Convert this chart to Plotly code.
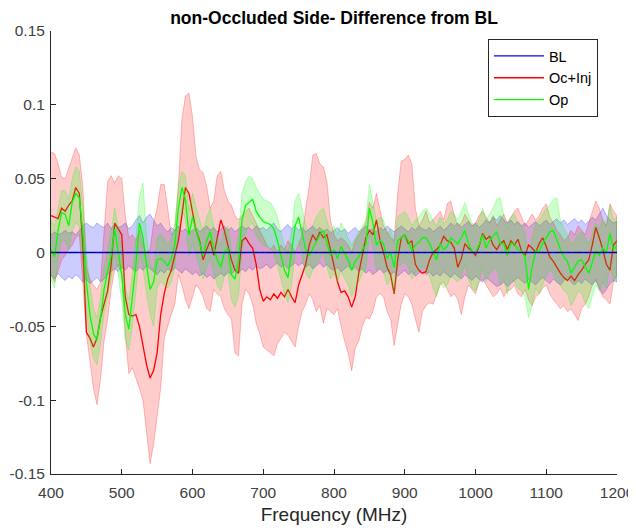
import plotly.graph_objects as go

# Frequency grid (MHz), 5 MHz steps
freq = list(range(400, 1201, 5))

# All values below are in units of 1e-3
bl_mean = [0] * len(freq)
bl_hi = [12,14,12,13,15,13,14,12,15,18, 20,18,17,20,18,17,20,16,19,17,
         18,20,16,18,22,25,20,24,26,22, 18,20,16,14,17,15,18,14,16,13,
         15,17,14,16,18,15,17,14,16,18, 15,17,14,16,18,16,17,15,18,16,
         17,15,18,20,16,14,17,19,16,18, 15,17,14,16,18,15,17,14,16,13,
         15,17,14,16,13,15,17,14,16,18, 15,16,14,17,15,18,16,14,16,18,
         16,14,17,15,18,16,15,17,14,16, 18,15,17,20,18,20,17,19,21,18,
         20,17,19,22,20,24,22,25,22,20, 22,19,21,18,20,17,19,21,18,20,
         22,19,21,23,20,22,19,21,23,20, 22,19,21,24,22,26,30,25,22,20, 21]
bl_lo = [-15,-18,-14,-17,-19,-16,-18,-15,-17,-20, -18,-21,-19,-17,-20,-18,-15,-13,-11,-13,
         -10,-12,-9,-11,-13,-10,-12,-9,-11,-13, -15,-12,-14,-11,-13,-10,-12,-14,-11,-13,
         -15,-13,-16,-14,-17,-15,-18,-16,-14,-16, -13,-15,-12,-14,-11,-13,-10,-12,-9,-11,
         -10,-8,-11,-9,-7,-10,-8,-11,-9,-7, -9,-7,-10,-8,-11,-9,-7,-10,-8,-11,
         -12,-10,-13,-11,-9,-12,-10,-13,-11,-14, -12,-15,-13,-11,-14,-12,-15,-13,-16,-14,
         -12,-15,-13,-16,-14,-12,-15,-13,-16,-14, -16,-13,-15,-17,-14,-16,-18,-15,-17,-19,
         -16,-18,-20,-17,-19,-21,-23,-22,-20,-23, -21,-19,-17,-19,-21,-18,-20,-22,-19,-17,
         -19,-21,-18,-20,-22,-19,-17,-20,-22,-19, -21,-18,-20,-22,-19,-24,-28,-25,-21,-19, -20]

oc_mean = [25,24,23,30,28,32,35,44,40,5, -54,-58,-64,-58,-44,-35,-26,-8,20,16,
           12,-30,-42,-43,-42,-50,-62,-76,-85,-80, -68,-42,-28,-18,-12,-2,8,25,44,40,
           28,15,8,-5,2,8,-2,10,22,15, 5,-5,-12,-14,8,10,6,3,-8,-25,
           -33,-30,-32,-28,-31,-27,-30,-25,-30,-34, -22,-15,-8,5,12,8,14,10,12,2,
           -8,-20,-27,-26,-30,-37,-30,-14,-2,10, 15,12,22,8,0,-10,-15,-28,-5,10,
           12,6,8,-8,-12,-14,-13,-5,0,2, 5,11,8,7,3,-10,-4,6,3,1,
           -2,4,13,9,11,5,2,6,8,2, 8,5,9,1,-2,5,3,0,6,10,
           4,-3,-6,-10,-14,-17,-19,-16,-19,-15, -12,-8,-5,5,17,10,2,-8,-12,5, 8]
oc_hi = [68,67,60,51,50,57,64,71,66,45, -10,-18,-22,-25,-20,15,48,52,47,52,
         50,25,10,12,8,15,5,0,2,20, 30,46,46,30,12,15,45,90,106,108,
         92,65,56,54,45,30,35,52,55,42, 35,32,25,22,25,28,30,25,20,15,
         10,5,2,5,0,5,2,8,5,0, 5,12,30,45,66,67,60,58,48,22,
         12,8,10,8,5,0,8,12,15,20, 34,30,40,28,18,14,10,8,40,62,
         63,66,60,30,18,22,28,20,22,25, 28,22,33,35,25,18,20,26,22,18,
         20,25,28,24,20,25,18,22,26,20, 24,28,30,24,18,22,26,22,25,30,
         33,24,20,15,12,8,10,15,12,18, 15,12,20,28,35,30,22,18,33,28, 25]
oc_lo = [-15,-20,-12,-5,-2,2,5,10,12,-20, -55,-75,-92,-103,-86,-60,-45,-25,-12,-8,
         -15,-55,-82,-78,-85,-92,-100,-122,-143,-130, -113,-92,-58,-50,-42,-35,-15,-22,-32,-38,
         -30,-22,-25,-30,-38,-40,-25,-28,-30,-38, -42,-45,-68,-70,-35,-25,-28,-35,-48,-55,
         -64,-66,-68,-70,-62,-58,-54,-56,-60,-64, -50,-40,-35,-28,-32,-40,-36,-48,-38,-40,
         -42,-38,-50,-60,-68,-80,-65,-60,-50,-44, -45,-40,-30,-28,-30,-40,-45,-63,-50,-35,
         -28,-30,-35,-45,-54,-40,-36,-34,-35,-28, -22,-20,-25,-30,-28,-32,-42,-30,-22,-25,
         -28,-20,-18,-22,-26,-30,-28,-24,-30,-26, -25,-22,-28,-30,-25,-32,-36,-30,-28,-24,
         -22,-28,-32,-35,-38,-36,-40,-38,-42,-46, -38,-35,-30,-22,-18,-25,-30,-32,-35,-20, -15]

op_mean = [2,-3,15,27,26,18,34,40,37,14, -20,-42,-55,-59,-45,-25,-13,-2,16,2,
           -15,-42,-52,-30,-8,20,10,-8,-25,-20, -5,-4,-6,-9,-4,5,30,44,36,12,
           24,15,6,-2,8,14,3,-5,-10,0, 3,-15,-18,-5,22,32,34,36,28,24,
           21,20,19,16,8,-2,-12,-17,0,18, 24,14,2,-2,3,8,12,15,6,-2,
           2,-4,4,-1,-5,-12,-6,-3,2,5, 30,20,5,8,6,-4,0,-10,8,10,
           12,8,1,5,7,10,10,6,0,-5, 6,2,4,10,8,6,10,15,6,1,
           0,5,12,3,8,11,14,6,6,-2, 6,6,2,1,-3,-25,-10,1,1,6,
           10,14,15,8,2,-3,-6,-14,-10,-6, -5,-10,-14,-7,1,-2,3,0,13,2, 5]
op_hi = [22,18,30,42,42,36,50,58,55,32, 0,-22,-38,-44,-30,-10,2,14,30,18,
         0,-24,-32,-14,10,38,47,12,-8,-12, 10,12,10,5,10,20,45,55,52,28,
         40,30,22,15,24,30,18,10,5,15, 18,2,-2,12,40,48,52,50,44,40,
         36,35,34,30,24,14,5,0,15,35, 40,30,18,14,18,24,28,30,22,14,
         18,12,20,15,10,5,10,14,18,22, 46,35,22,24,22,12,16,6,24,26,
         28,24,18,22,24,28,30,26,22,18, 24,20,22,28,26,22,28,34,26,20,
         18,22,30,22,26,30,36,37,25,16, 24,26,20,18,14,-5,10,20,22,26,
         30,32,36,37,22,16,12,5,8,12, 14,10,6,12,20,16,22,18,32,22, 24]
op_lo = [-18,-24,-5,8,8,2,14,20,18,-5, -40,-60,-72,-76,-62,-42,-30,-18,0,-15,
         -32,-60,-66,-50,-26,0,-10,-28,-42,-50, -24,-20,-22,-24,-20,-10,12,30,22,-2,
         6,-2,-10,-18,-10,-4,-14,-22,-26,-16, -14,-32,-37,-30,2,14,18,20,12,8,
         5,4,3,0,-8,-18,-28,-34,-22,0, 8,-2,-14,-18,-12,-8,-4,0,-10,-18,
         -14,-20,-12,-18,-22,-30,-24,-20,-14,-12, 12,4,-12,-10,-12,-22,-18,-28,-10,-8,
         -6,-10,-18,-14,-12,-10,-12,-16,-24,-30, -20,-24,-22,-16,-18,-20,-16,-8,-18,-24,
         -26,-20,-10,-20,-14,-12,-10,-22,-18,-28, -18,-20,-24,-26,-30,-44,-36,-24,-28,-22,
         -16,-12,-14,-20,-22,-26,-28,-36,-32,-26, -28,-34,-38,-30,-22,-26,-20,-24,-8,-20, -16]

ytick_vals = [-0.15, -0.1, -0.05, 0, 0.05, 0.1, 0.15]
ytick_text = ["-0.15", "-0.1", "-0.05", "0", "0.05", "0.1", "0.15"]
xtick_vals = [400, 500, 600, 700, 800, 900, 1000, 1100, 1200]

def scale(v):
    return [a / 1000.0 for a in v]

FONT = "Liberation Sans, Arial, Helvetica, sans-serif"
fig = go.Figure()

def band(lo, hi, rgb):
    fig.add_trace(go.Scatter(
        x=freq + freq[::-1], y=scale(hi) + scale(lo)[::-1],
        fill="toself", mode="lines",
        fillcolor="rgba(%d,%d,%d,0.2)" % rgb,
        line=dict(color="rgba(%d,%d,%d,0.25)" % rgb, width=1),
        hoverinfo="skip", showlegend=False))

def mean_line(vals, rgb, name):
    fig.add_trace(go.Scatter(
        x=freq, y=scale(vals), mode="lines", name=name,
        line=dict(color="rgb(%d,%d,%d)" % rgb, width=1.3)))

band(bl_lo, bl_hi, (0, 0, 255))
band(oc_lo, oc_hi, (255, 0, 0))
mean_line(oc_mean, (255, 0, 0), "Oc+Inj")
band(op_lo, op_hi, (0, 255, 0))
mean_line(op_mean, (0, 255, 0), "Op")
mean_line(bl_mean, (0, 0, 255), "BL")
fig.add_trace(go.Scatter(
    x=freq, y=scale(bl_mean), mode="lines", showlegend=False,
    line=dict(color="rgba(0,0,70,0.75)", width=1.2, dash="dashdot"),
    hoverinfo="skip"))

# The page body adds an 8px offset, so margins are shifted accordingly
fig.update_layout(
    width=636, height=532,
    margin=dict(l=43, r=27, t=23, b=66),
    paper_bgcolor="white", plot_bgcolor="white",
    font=dict(family=FONT, size=16, color="#262626"),
    title=dict(text="<b>non-Occluded Side- Difference from BL</b>",
               x=(43 + 566 / 2) / 636, xanchor="center",
               y=1 - 10 / 532, yanchor="middle", yref="container",
               font=dict(size=17.5, color="black")),
    showlegend=True,
    legend=dict(x=0.772, y=0.982, xanchor="left", yanchor="top",
                bgcolor="white", bordercolor="#262626", borderwidth=1,
                font=dict(size=14.5, color="black"), itemwidth=50,
                traceorder="normal", tracegroupgap=0),
)
fig.update_xaxes(range=[400, 1200], tickvals=xtick_vals,
                 ticks="inside", ticklen=5, tickcolor="#262626",
                 showline=True, linecolor="#262626", linewidth=1,
                 showgrid=False, zeroline=False, mirror=False, automargin=False,
                 ticklabelstandoff=4,
                 title=dict(text="Frequency (MHz)", font=dict(size=19, color="#262626"), standoff=8),
                 tickfont=dict(size=15.5, color="#404040"))
fig.update_yaxes(range=[-0.15, 0.15], tickvals=ytick_vals, ticktext=ytick_text,
                 ticks="inside", ticklen=5, tickcolor="#262626",
                 showline=True, linecolor="#262626", linewidth=1,
                 showgrid=False, zeroline=False, mirror=False, automargin=False,
                 ticklabelstandoff=2,
                 tickfont=dict(size=15.5, color="#404040"))

# legend order: BL, Oc+Inj, Op
fig.data[5].legendrank = 1
fig.data[2].legendrank = 2
fig.data[4].legendrank = 3

fig.write_html("out.html")
